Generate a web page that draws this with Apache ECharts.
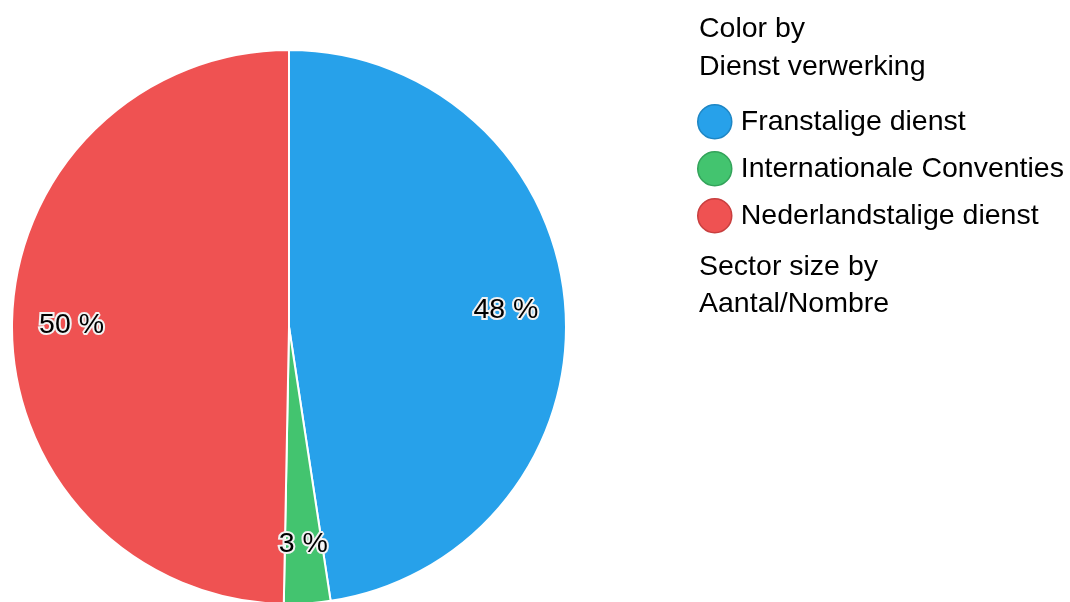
<!DOCTYPE html>
<html><head><meta charset="utf-8">
<script src="https://cdn.jsdelivr.net/npm/echarts@6/dist/echarts.min.js"></script>
<style>html,body{margin:0;padding:0;background:#fff}#c{width:1070px;height:602px}</style>
</head><body><div id="c"></div>
<script>
const categories = ['Franstalige dienst', 'Internationale Conventies', 'Nederlandstalige dienst'];
const values = [476, 27, 497];
const colors = ['#27A1EA', '#43C46F', '#EF5252'];
const borders = ['#1E86C4', '#33A35A', '#C83F3F'];
const colorTitle = ['Color by', 'Dienst verwerking'];
const sizeTitle = ['Sector size by', 'Aantal/Nombre'];

const FONT = 'Liberation Sans, Arial, sans-serif';
const FS = 28.5;
const chart = echarts.init(document.getElementById('c'));
const data = categories.map((n, i) => ({name: n, value: values[i], itemStyle: {color: colors[i]}}));
const center = [289, 327];
const R = 277;
chart.setOption({
  animation: false,
  legend: {
    orient: 'vertical', left: 692, top: 99,
    icon: 'circle', itemWidth: 34, itemHeight: 34, itemGap: 11.5,
    textStyle: {fontFamily: FONT, fontSize: FS, color: '#000', padding: [0, 0, 0, 4]},
    data: categories.map((n, i) => ({name: n, itemStyle: {color: colors[i], borderColor: borders[i], borderWidth: 1.5}}))
  },
  graphic: [
    {type: 'text', left: 699, top: 10, style: {text: colorTitle.join('\n'), font: FS + 'px ' + FONT, lineHeight: 38, fill: '#000'}},
    {type: 'text', left: 699, top: 249, style: {text: sizeTitle.join('\n'), font: FS + 'px ' + FONT, lineHeight: 37, fill: '#000'}}
  ],
  series: [
    {
      type: 'pie', center: center, radius: [0, R], startAngle: 90, clockwise: true,
      label: {show: false}, labelLine: {show: false},
      itemStyle: {borderColor: '#fff', borderWidth: 2},
      emphasis: {disabled: true},
      data: data
    },
    {
      type: 'pie', center: center, radius: [152, R], startAngle: 90, clockwise: true,
      silent: true, legendHoverLink: false,
      itemStyle: {color: 'rgba(0,0,0,0)', borderWidth: 0},
      labelLine: {show: false},
      label: {
        show: true, position: 'inside',
        formatter: p => '{t|' + Math.round(p.percent) + ' %}',
        rich: {
          t: {fontFamily: FONT, fontSize: FS, color: '#000000', textBorderColor: '#f2f2f2', textBorderWidth: 4}
        }
      },
      emphasis: {disabled: true},
      data: categories.map((n, i) => ({name: n, value: values[i]}))
    }
  ]
});
</script></body></html>
